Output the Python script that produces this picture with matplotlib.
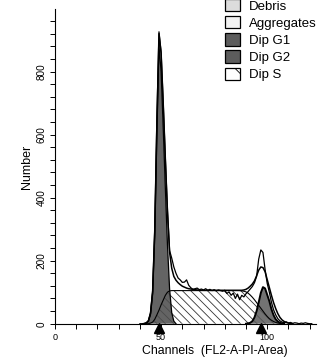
import numpy as np
import matplotlib.pyplot as plt
from matplotlib.patches import Patch
from matplotlib.ticker import MultipleLocator

plt.rcParams['font.family'] = ['Liberation Sans', 'DejaVu Sans']
plt.rcParams['hatch.linewidth'] = 0.6

# ----------------------------------------------------------
# DNA histogram values (channel -> count)
# ----------------------------------------------------------

raw_channels = np.arange(40, 122)
raw_counts = [
    0, 0, 1, 3, 10, 35, 105, 300, 650, 926,
    862, 700, 525, 360, 232, 208, 180, 160, 145, 139,
    131, 132, 139, 122, 114, 109, 111, 113, 108, 110,
    107, 111, 106, 109, 105, 108, 104, 107, 105, 103,
    106, 96, 101, 90, 97, 80, 94, 76, 90, 85,
    95, 102, 110, 118, 130, 150, 205, 234, 226, 172,
    128, 100, 68, 44, 28, 16, 9, 5, 3, 6,
    2, 4, 1, 3, 2, 0, 2, 1, 3, 1,
    0, 0,
]

fit_channels = [
    42, 43, 44, 45, 46, 47, 48, 49, 50, 51, 52, 53, 54, 55, 56, 57, 58,
    59, 60, 61, 62, 63, 64, 65, 66, 67, 70, 86, 88, 89, 90, 91, 92, 93,
    94, 95, 96, 97, 98, 99, 100, 101, 102, 103, 104, 105, 106, 107, 108,
    109, 110, 111, 112,
]
fit_counts = [
    0, 2, 8, 32, 100, 294, 630, 920, 858, 697, 522, 355, 226, 176, 150, 138, 130,
    124, 119, 116, 113, 111, 110, 109, 108, 107, 106, 106, 106, 107, 109, 113, 119, 126,
    136, 152, 170, 180, 178, 165, 140, 115, 90, 67, 48, 32, 20, 12, 7,
    4, 2, 1, 0,
]

g1_channels = np.arange(42, 58)
g1_counts = [0, 2, 8, 30, 95, 280, 600, 880, 800, 620, 430, 250, 110, 35, 8, 0]

g2_channels = np.arange(90, 109)
g2_counts = [0, 1, 3, 8, 20, 40, 68, 98, 116, 112, 92, 72, 46, 27, 14, 7, 3, 1, 0]

s_channels = [
    43, 44, 45, 46, 47, 48, 49, 50, 51, 52, 53, 54, 55,
    87, 88, 89, 90, 91, 92, 93, 94, 95, 96, 97, 98, 99, 100,
    101, 102, 103, 104, 105, 106, 107,
]
s_counts = [
    0, 0, 2, 5, 14, 28, 43, 60, 75, 90, 100, 104, 105,
    105, 104, 103, 101, 97, 91, 84, 76, 67, 58, 49, 40, 31, 23,
    16, 11, 7, 4, 2, 1, 0,
]

peak_channels = [49, 97]

legend_labels = ["Debris", "Aggregates", "Dip G1", "Dip G2", "Dip S"]

# ----------------------------------------------------------
# Figure
# ----------------------------------------------------------

fig = plt.figure(figsize=(3.31, 3.64), dpi=100)
ax = fig.add_axes([0.1662, 0.1107, 0.7885, 0.8643])

# S phase (hatched), drawn first so the G1/G2 fills sit on it
ax.fill_between(s_channels, 0, s_counts, facecolor="white",
                edgecolor="#333333", hatch="\\\\\\\\", linewidth=0)

ax.fill_between(g1_channels, 0, g1_counts, facecolor="#4e4e4e",
                alpha=0.88, linewidth=0)
ax.fill_between(g2_channels, 0, g2_counts, facecolor="#5a5a5a",
                alpha=0.85, linewidth=0)

ax.plot(s_channels, s_counts, color="black", linewidth=0.8)
ax.plot(g1_channels, g1_counts, color="black", linewidth=0.9)
ax.plot(g2_channels, g2_counts, color="black", linewidth=1.4)

ax.plot(fit_channels, fit_counts, color="black", linewidth=1.1)
ax.plot(raw_channels, raw_counts, color="black", linewidth=0.9)

# peak markers under the axis
ax.plot(peak_channels, [-14] * len(peak_channels), marker="^",
        linestyle="none", color="black", markersize=7, clip_on=False)

ax.set_xlim(0, 123)
ax.set_ylim(0, 998)

for side in ["top", "right"]:
    ax.spines[side].set_visible(False)
for side in ["left", "bottom"]:
    ax.spines[side].set_linewidth(0.8)

ax.xaxis.set_major_locator(MultipleLocator(50))
ax.xaxis.set_minor_locator(MultipleLocator(10))
ax.yaxis.set_major_locator(MultipleLocator(200))
ax.yaxis.set_minor_locator(MultipleLocator(40))

ax.tick_params(which="both", direction="out", length=3.8, width=0.7)
ax.tick_params(axis="x", labelsize=6.5, pad=3)
ax.tick_params(axis="y", labelsize=7.2, pad=2.5, labelrotation=90)
plt.setp(ax.get_yticklabels(), va="center")

ax.set_xlabel("Channels  (FL2-A-PI-Area)", fontsize=8.8)
ax.xaxis.set_label_coords(0.613, -0.068)
ax.set_ylabel("Number", fontsize=9)
ax.yaxis.set_label_coords(-0.084, 0.5)

handles = [
    Patch(facecolor="#dcdcdc", edgecolor="black", linewidth=0.9),
    Patch(facecolor="#f2f2f2", edgecolor="black", linewidth=0.9),
    Patch(facecolor="#5c5c5c", edgecolor="black", linewidth=0.9),
    Patch(facecolor="#5c5c5c", edgecolor="black", linewidth=0.9),
    Patch(facecolor="white", edgecolor="black", linewidth=0.9, hatch="\\"),
]
fig.legend(handles, legend_labels, loc="upper left",
           bbox_to_anchor=(225 / 331, 1.003), frameon=False, fontsize=9.5,
           borderpad=0, borderaxespad=0, handlelength=1.15,
           handleheight=1.05, handletextpad=0.65, labelspacing=0.27)

fig.savefig("out.png", dpi=100)
plt.close(fig)
